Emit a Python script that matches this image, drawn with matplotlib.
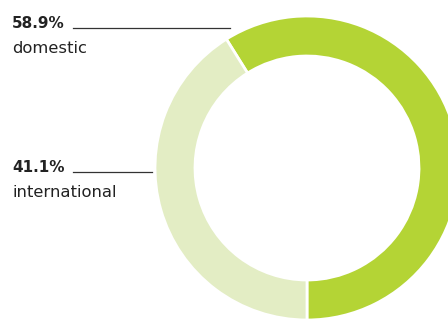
import matplotlib
matplotlib.use('Agg')
import matplotlib.pyplot as plt

labels = ['domestic', 'international']
shares = [58.9, 41.1]
colors = ['#b4d435', '#e3edc4']

plt.rcParams['font.family'] = ['DejaVu Sans']

fig = plt.figure(figsize=(4.48, 3.2), dpi=100)
ax = fig.add_axes([0, 0, 1, 1])

# ring, centre and radii in pixel units
cx, cy, r_out, r_in = 307, 320 - 168, 152, 112
ax.pie(shares, colors=colors, startangle=-90, counterclock=True,
       center=(cx, cy), radius=r_out, frame=True,
       wedgeprops=dict(width=r_out - r_in, edgecolor='white', linewidth=2))
ax.set_xlim(0, 448)
ax.set_ylim(0, 320)
ax.set_aspect('equal')
ax.axis('off')

# labels with leader lines
label_pos = [(12, 320 - 28, 230), (12, 320 - 172, 152)]
for (x, y, x_end), lab, val in zip(label_pos, labels, shares):
    ax.text(x, y, '{0:.1f}%'.format(val), fontsize=11, fontweight='bold',
            color='#222222', va='baseline', ha='left')
    ax.text(x, y - 25, lab, fontsize=11.8, color='#222222',
            va='baseline', ha='left')
    ax.plot([73, x_end], [y, y], color='#333333', lw=0.9)

fig.savefig('out.png', dpi=100)
